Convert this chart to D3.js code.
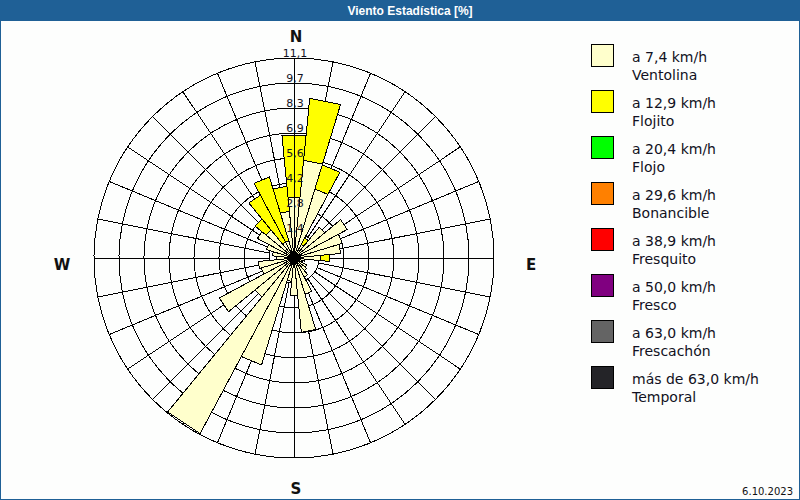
<!DOCTYPE html>
<html>
<head>
<meta charset="utf-8">
<script src="https://cdn.jsdelivr.net/npm/d3@7"></script>
<style>
  body { margin: 0; background: #fff; }
  svg text { font-family: "DejaVu Sans", Verdana, sans-serif; }
</style>
</head>
<body>
<div id="chart"></div>
<script>
// sector directions (degrees from north, 32 sectors)
var directions = d3.range(32).map(function (i) { return i * 11.25; });

// percent per sector, "a 7,4 km/h" (Ventolina)
var ventolina = [3.4, 5.45, 4.0, 0.85, 2.2, 3.35, 2.8, 2.6,
                 1.5, 0.6, 0.5, 0.8, 0.9, 1.2, 2.1, 4.15,
                 2.1, 1.3, 6.2, 11.05, 2.8, 4.7, 1.9, 2.0,
                 1.0, 1.2, 1.6, 2.3, 2.0, 1.0, 1.0, 2.6];
// percent per sector, "a 12,9 km/h" (Flojito), stacked on top
var flojito = [3.45, 3.45, 1.4, 0.4, 0, 0, 0, 0,
               0.5, 0, 0, 0, 0, 0, 0, 0,
               0, 0, 0, 0, 0, 0, 0, 0,
               0, 0, 0, 0, 0.8, 2.95, 3.7, 1.4];

var ringLabels = ["1,4", "2,8", "4,2", "5,6", "6,9", "8,3", "9,7", "11,1"];
var ringMax = 11.1;

var legendColors = ["#ffffcc", "#ffff00", "#00ff00", "#ff8000", "#ff0000", "#800080", "#646464", "#242428"];
var legendLine1 = ["a 7,4 km/h", "a 12,9 km/h", "a 20,4 km/h", "a 29,6 km/h", "a 38,9 km/h", "a 50,0 km/h", "a 63,0 km/h", "más de 63,0 km/h"];
var legendLine2 = ["Ventolina", "Flojito", "Flojo", "Bonancible", "Fresquito", "Fresco", "Frescachón", "Temporal"];

var width = 800, height = 500;
var cx = 294, cy = 258;

var svg = d3.select("#chart")
  .append("svg")
  .attr("width", width)
  .attr("height", height);

// frame + title bar
svg.append("rect")
  .attr("x", 0.5).attr("y", 0.5)
  .attr("width", width - 1).attr("height", height - 1)
  .attr("fill", "#fdfefd")
  .attr("stroke", "#1f6096");
svg.append("rect")
  .attr("x", 0).attr("y", 0)
  .attr("width", width).attr("height", 21)
  .attr("fill", "#1f6096");
svg.append("text")
  .attr("x", 410).attr("y", 15)
  .attr("text-anchor", "middle")
  .style("font-family", "'Liberation Sans', Arial, sans-serif")
  .style("font-size", "12px")
  .style("font-weight", "bold")
  .attr("fill", "#ffffff")
  .text("Viento Estadística [%]");

// radial scale
var r = d3.scaleLinear()
  .domain([0, ringMax])
  .range([0, 200]);
var ringValues = d3.range(1, 9).map(function (k) { return k * ringMax / 8; });

function px(rad, deg) { return cx + rad * Math.sin(deg * Math.PI / 180); }
function py(rad, deg) { return cy - rad * Math.cos(deg * Math.PI / 180); }

var plot = svg.append("g").attr("shape-rendering", "crispEdges");

// grid rings
plot.selectAll("circle.ring")
  .data(ringValues)
  .enter()
  .append("circle")
  .attr("class", "ring")
  .attr("cx", cx).attr("cy", cy)
  .attr("r", function (d) { return r(d); })
  .attr("fill", "none")
  .attr("stroke", "#000");

// grid spokes, from first ring outwards
plot.selectAll("line.spoke")
  .data(directions)
  .enter()
  .append("line")
  .attr("class", "spoke")
  .attr("x1", function (d) { return px(r(ringValues[0]), d); })
  .attr("y1", function (d) { return py(r(ringValues[0]), d); })
  .attr("x2", function (d) { return px(r(ringMax), d); })
  .attr("y2", function (d) { return py(r(ringMax), d); })
  .attr("stroke", "#000");

// stacked sectors
var segments = [];
directions.forEach(function (dir, i) {
  var v0 = ventolina[i], v1 = ventolina[i] + flojito[i];
  segments.push({ dir: dir, from: 0, to: v0, color: legendColors[0] });
  if (flojito[i] > 0) segments.push({ dir: dir, from: v0, to: v1, color: legendColors[1] });
});

var half = 11.25 / 2;
plot.selectAll("polygon.sector")
  .data(segments)
  .enter()
  .append("polygon")
  .attr("class", "sector")
  .attr("points", function (d) {
    var a0 = d.dir - half, a1 = d.dir + half;
    var r0 = r(d.from), r1 = r(d.to);
    return [[px(r0, a0), py(r0, a0)], [px(r1, a0), py(r1, a0)],
            [px(r1, a1), py(r1, a1)], [px(r0, a1), py(r0, a1)]]
      .map(function (p) { return p.join(","); }).join(" ");
  })
  .attr("fill", function (d) { return d.color; })
  .attr("stroke", "#000")
  .attr("stroke-width", 1);

// north axis over bars
plot.append("line")
  .attr("x1", cx).attr("y1", cy)
  .attr("x2", cx).attr("y2", py(r(ringMax), 0))
  .attr("stroke", "#000");

svg.append("circle")
  .attr("cx", cx).attr("cy", cy).attr("r", 3)
  .attr("fill", "#000");

// ring labels along north axis
svg.selectAll("text.ringlabel")
  .data(ringValues)
  .enter()
  .append("text")
  .attr("class", "ringlabel")
  .attr("x", cx + 1)
  .attr("y", function (d) { return cy - r(d) - 1; })
  .attr("text-anchor", "middle")
  .style("font-size", "11px")
  .attr("fill", "#111122")
  .text(function (d, i) { return ringLabels[i]; });

// compass letters
var compass = [["N", cx + 2, 42], ["E", 531, 270], ["S", cx + 2, 494], ["W", 62, 270]];
svg.selectAll("text.compass")
  .data(compass)
  .enter()
  .append("text")
  .attr("class", "compass")
  .attr("x", function (d) { return d[1]; })
  .attr("y", function (d) { return d[2]; })
  .attr("text-anchor", "middle")
  .style("font-size", "15px")
  .style("font-weight", "bold")
  .attr("fill", "#111")
  .text(function (d) { return d[0]; });

// legend
var legend = svg.selectAll("g.legend")
  .data(legendColors)
  .enter()
  .append("g")
  .attr("class", "legend")
  .attr("transform", function (d, i) { return "translate(591," + (44 + i * 46) + ")"; });
legend.append("rect")
  .attr("x", 0.5).attr("y", 0.5)
  .attr("width", 22).attr("height", 22)
  .attr("fill", function (d) { return d; })
  .attr("stroke", "#000");
legend.append("text")
  .attr("x", 41).attr("y", 18)
  .style("font-size", "14px")
  .attr("fill", "#111122")
  .text(function (d, i) { return legendLine1[i]; });
legend.append("text")
  .attr("x", 41).attr("y", 35.5)
  .style("font-size", "14px")
  .attr("fill", "#111122")
  .text(function (d, i) { return legendLine2[i]; });

// date
svg.append("text")
  .attr("x", 793).attr("y", 495)
  .attr("text-anchor", "end")
  .style("font-size", "10px")
  .attr("fill", "#111")
  .text("6.10.2023");
</script>
</body>
</html>
